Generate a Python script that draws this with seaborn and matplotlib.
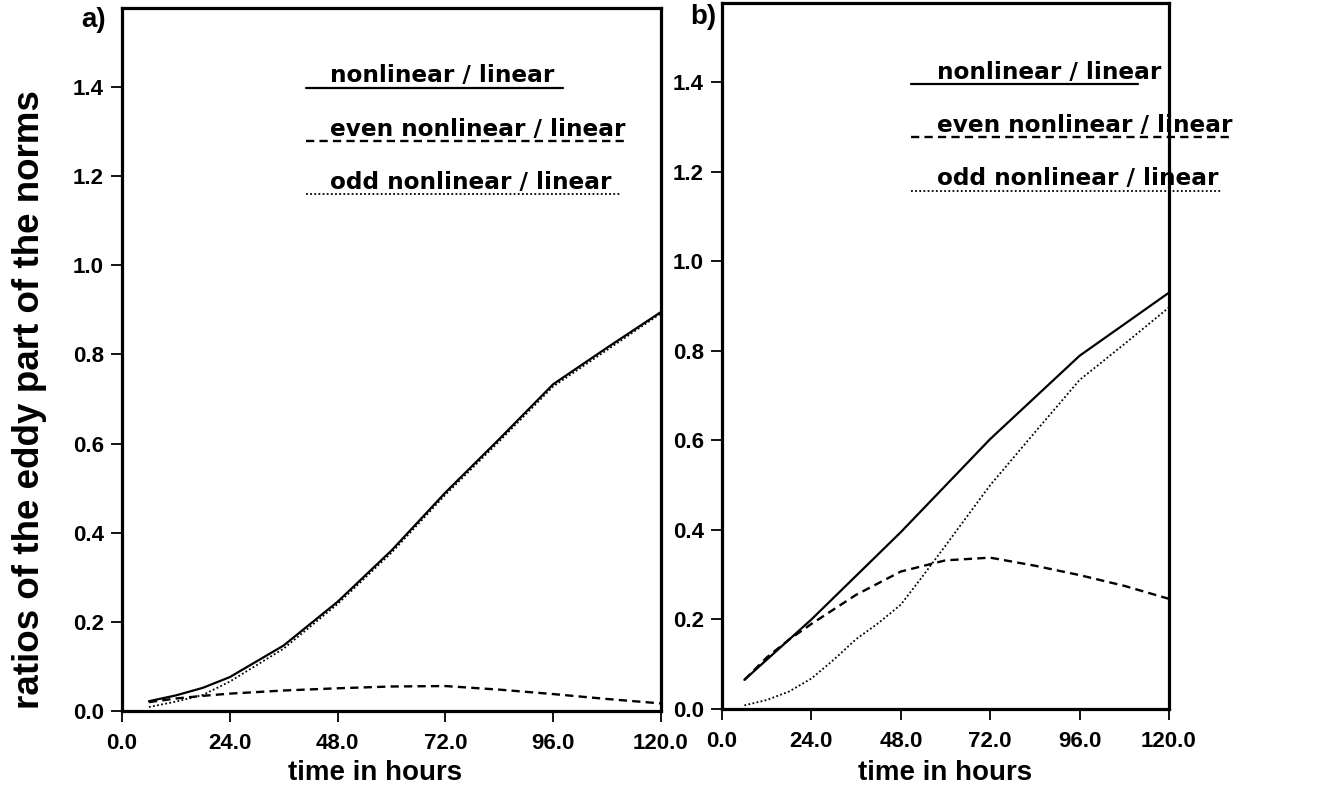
import matplotlib
matplotlib.use("Agg")
import matplotlib.pyplot as plt
import seaborn as sns

# ---------------- data ----------------
hours_a = [6, 12, 18, 24, 36, 48, 60, 72, 84, 96, 108, 120]
a_nonlinear = [0.022, 0.035, 0.052, 0.076, 0.147, 0.245, 0.36, 0.49, 0.61, 0.733, 0.815, 0.895]
a_even = [0.020, 0.028, 0.034, 0.039, 0.046, 0.051, 0.055, 0.056, 0.048, 0.038, 0.027, 0.017]
a_odd = [0.009, 0.021, 0.036, 0.066, 0.140, 0.240, 0.355, 0.485, 0.605, 0.728, 0.81, 0.892]

hours_b_nl = [6, 24, 48, 72, 96, 120]
b_nonlinear = [0.065, 0.200, 0.395, 0.603, 0.789, 0.930]
hours_b_even = [6, 12, 18, 24, 36, 48, 60, 72, 84, 96, 108, 120]
b_even = [0.065, 0.115, 0.155, 0.190, 0.255, 0.307, 0.332, 0.338, 0.320, 0.299, 0.275, 0.246]
hours_b_odd = [6, 12, 18, 24, 30, 36, 42, 48, 54, 60, 72, 84, 96, 108, 120]
b_odd = [0.008, 0.020, 0.039, 0.068, 0.110, 0.156, 0.192, 0.233, 0.298, 0.365, 0.500, 0.618, 0.735, 0.815, 0.897]

x_ticks = [0.0, 24.0, 48.0, 72.0, 96.0, 120.0]
y_ticks = [0.0, 0.2, 0.4, 0.6, 0.8, 1.0, 1.2, 1.4]
legend_labels = ["nonlinear / linear", "even nonlinear / linear", "odd nonlinear / linear"]
panel_labels = ["a)", "b)"]
x_label = "time in hours"
y_label = "ratios of the eddy part of the norms"

# ---------------- style ----------------
sns.set_style("ticks")
plt.rcParams["font.family"] = ["Liberation Sans", "DejaVu Sans"]
plt.rcParams["font.weight"] = "bold"
plt.rcParams["text.color"] = "black"
plt.rcParams["axes.labelcolor"] = "black"
plt.rcParams["xtick.color"] = "black"
plt.rcParams["ytick.color"] = "black"

fig = plt.figure(figsize=(13.2, 7.88), dpi=100)
ax_a = fig.add_axes([0.0924, 0.0977, 0.4083, 0.8921])
ax_b = fig.add_axes([0.5470, 0.1003, 0.3386, 0.8959])

solid = dict(color="black", lw=1.6, linestyle="-")
dashed = dict(color="black", lw=1.7, linestyle=(0, (3.5, 2.2)))
dotted = dict(color="black", lw=1.3, linestyle=(0, (1, 1.3)))

sns.lineplot(x=hours_a, y=a_nonlinear, ax=ax_a, **solid)
sns.lineplot(x=hours_a, y=a_even, ax=ax_a, **dashed)
sns.lineplot(x=hours_a, y=a_odd, ax=ax_a, **dotted)

sns.lineplot(x=hours_b_nl, y=b_nonlinear, ax=ax_b, **solid)
sns.lineplot(x=hours_b_even, y=b_even, ax=ax_b, **dashed)
sns.lineplot(x=hours_b_odd, y=b_odd, ax=ax_b, **dotted)

# legend-like annotations (line + text above it)
leg_a = dict(x0=41.0, xt=46.3, ends=[98.2, 112.5, 110.9], ys=[1.398, 1.279, 1.160])
leg_b = dict(x0=50.7, xt=57.7, ends=[111.7, 136.1, 134.2], ys=[1.395, 1.277, 1.158])
styles = [solid, dashed, dotted]

for ax, leg in [(ax_a, leg_a), (ax_b, leg_b)]:
    for lab, xe, yy, st in zip(legend_labels, leg["ends"], leg["ys"], styles):
        ax.plot([leg["x0"], xe], [yy, yy], clip_on=False, **st)
        ax.text(leg["xt"], yy + 0.012, lab, ha="left", va="baseline", color="black",
                fontsize=16.7, fontweight="bold", family=["DejaVu Sans"])

for ax, lab in [(ax_a, panel_labels[0]), (ax_b, panel_labels[1])]:
    ax.set_xlim(0, 120)
    ax.set_ylim(0, 1.577)
    ax.set_xticks(x_ticks)
    ax.set_xticklabels([f"{v:.1f}" for v in x_ticks])
    ax.set_yticks(y_ticks)
    ax.set_yticklabels([f"{v:.1f}" for v in y_ticks])
    ax.tick_params(axis="both", direction="out", length=8, width=1.3,
                   labelsize=16, colors="black")
    ax.tick_params(axis="x", pad=8)
    ax.tick_params(axis="y", pad=5)
    for lbl in ax.get_xticklabels() + ax.get_yticklabels():
        lbl.set_fontweight("bold")
    for sp in ax.spines.values():
        sp.set_visible(True)
        sp.set_linewidth(2.3)
        sp.set_color("black")
    ax.set_xlabel(x_label, fontsize=20, fontweight="bold", color="black")
    ax.set_ylabel("")

ax_a.xaxis.set_label_coords(0.470, -0.070)
ax_b.xaxis.set_label_coords(0.498, -0.073)

fig.text(94 / 1320, 1 - 20 / 788, panel_labels[0], ha="center", va="center",
         fontsize=20, fontweight="bold", color="black")
fig.text(703 / 1320, 1 - 17 / 788, panel_labels[1], ha="center", va="center",
         fontsize=20, fontweight="bold", color="black")
fig.text(30 / 1320, 1 - 400 / 788, y_label, rotation=90, ha="center", va="center",
         fontsize=26.5, fontweight="bold", color="black")

fig.savefig("out.png", dpi=100, facecolor="white")
